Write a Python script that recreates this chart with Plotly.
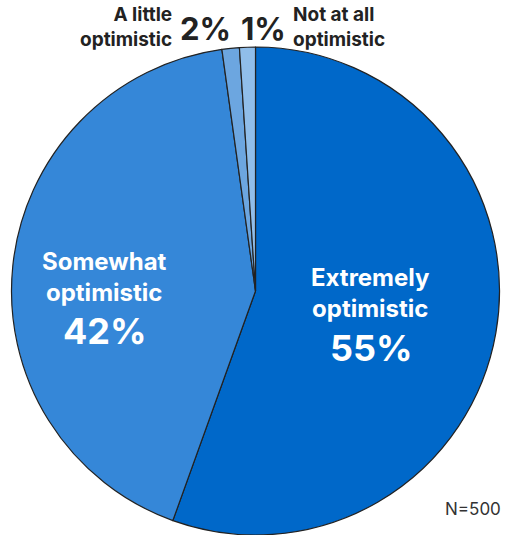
import plotly.graph_objects as go

categories = ["Extremely optimistic", "Somewhat optimistic", "A little optimistic", "Not at all optimistic"]
values = [55.5, 42.3, 1.15, 1.05]
pct_labels = ["55%", "42%", "2%", "1%"]
colors = ["#0068C9", "#3587D8", "#6CA6E0", "#90BEEA"]
sample_note = "N=500"

W, H = 513, 535
FONT = "Inter"

fig = go.Figure(go.Pie(
    labels=categories,
    values=values,
    sort=False,
    direction="clockwise",
    rotation=0,
    marker=dict(colors=colors, line=dict(color="#222222", width=1.2)),
    textinfo="none",
    hoverinfo="label+percent",
    showlegend=False,
    domain=dict(x=[10 / W, 501 / W], y=[0, 1 - 47 / H]),
))

def px(x, y):
    return x / W, 1 - y / H

anns = []
def add(text, x, y, size, color, xanchor="center", bold=True, align="center"):
    ax, ay = px(x, y)
    anns.append(dict(text=(f"<b>{text}</b>" if bold else text), x=ax, y=ay, xref="paper", yref="paper",
                     xanchor=xanchor, yanchor="middle", showarrow=False, align=align,
                     font=dict(family=FONT, size=size, color=color)))

def two_lines(label):
    words = label.split(" ")
    return " ".join(words[:-1]) + "<br>" + words[-1]

# Extremely optimistic
add(two_lines(categories[0]), 370, 293, 24, "white")
add(pct_labels[0], 371, 348, 36, "white")
# Somewhat optimistic
add(two_lines(categories[1]), 104, 277, 24, "white")
add(pct_labels[1], 105, 331, 36, "white")
# top small slices
add(two_lines(categories[2]), 174, 27, 19, "#222222", xanchor="right", align="right")
add(pct_labels[2], 205, 29, 31, "#222222")
add(pct_labels[3], 263, 29, 31, "#222222")
add(two_lines(categories[3]), 291, 27, 19, "#222222", xanchor="left", align="left")
add(sample_note, 503, 509, 17, "#333333", xanchor="right", bold=False)

fig.update_layout(
    width=W, height=H,
    margin=dict(l=0, r=0, t=0, b=0),
    paper_bgcolor="white",
    plot_bgcolor="white",
    annotations=anns,
)

fig.write_html("out.html", config={"displayModeBar": False})

# remove the default body margin so the figure sits at the window's top-left
with open("out.html", "r", encoding="utf-8") as f:
    html = f.read()
html = html.replace("<head>", "<head><style>html,body{margin:0;padding:0;overflow:hidden;}</style>", 1)
with open("out.html", "w", encoding="utf-8") as f:
    f.write(html)
